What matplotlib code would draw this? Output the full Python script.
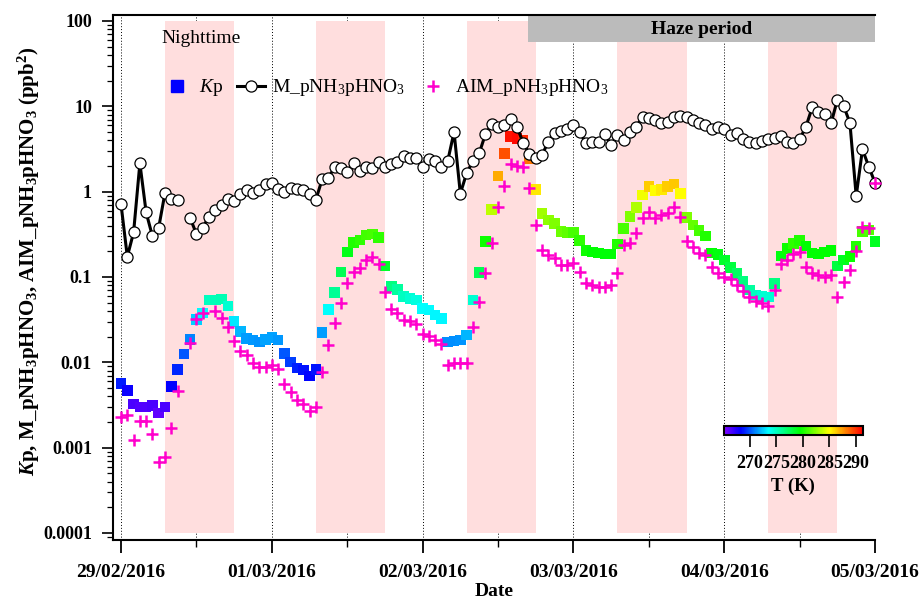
import numpy as np
import matplotlib
matplotlib.use("Agg")
from matplotlib import pyplot as plt
from matplotlib.colors import LinearSegmentedColormap, Normalize
from matplotlib.lines import Line2D
from matplotlib.ticker import LogLocator, NullFormatter, FixedLocator

plt.rcParams['font.family'] = ['Liberation Serif', 'DejaVu Serif']
plt.rcParams['mathtext.fontset'] = 'custom'
plt.rcParams['mathtext.rm'] = 'Liberation Serif'
plt.rcParams['mathtext.it'] = 'Liberation Serif:italic'
plt.rcParams['mathtext.bf'] = 'Liberation Serif:bold'
plt.rcParams['mathtext.bfit'] = 'Liberation Serif:italic:bold'

nan = np.nan

# hourly data, hour 0 = 29/02/2016 00:00
hours = np.arange(121)

m_pnh3phno3 = [0.71, 0.173, 0.333, 2.15, 0.57, 0.30, 0.38, 0.97, 0.83, 0.80,
               nan, 0.49, 0.32, 0.38, 0.51, 0.61, 0.69, 0.81, 0.78, 0.93,
               1.04, 0.97, 1.04, 1.22, 1.25, 1.06, 1.00, 1.09, 1.06, 1.04,
               0.94, 0.80, 1.39, 1.46, 1.93, 1.90, 1.71, 2.15, 1.75, 1.96,
               1.88, 2.20, 1.96, 2.11, 2.24, 2.64, 2.49, 2.49, 1.96, 2.41,
               2.30, 1.96, 2.30, 5.0, 0.95, 1.64, 2.29, 2.81, 4.73, 6.15,
               5.77, 6.0, 7.1, 5.77, 3.74, 2.74, 2.49, 2.69, 3.85, 4.9,
               5.17, 5.37, 6.0, 5.0, 3.68, 3.85, 3.85, 4.69, 3.52, 4.61,
               4.03, 5.0, 5.77, 7.55, 7.2, 6.9, 6.3, 6.6, 7.4, 7.7,
               7.4, 6.9, 6.3, 6.0, 5.37, 5.77, 5.37, 4.61, 4.9, 4.1,
               3.85, 3.74, 3.94, 4.1, 4.2, 4.46, 3.85, 3.68, 4.1, 5.77,
               9.7, 8.6, 8.1, 6.3, 11.9, 10.1, 6.4, 0.89, 3.13, 1.96,
               1.27]

kp = [0.00567, 0.00464, 0.00324, 0.0030, 0.0030, 0.0031, 0.00256, 0.0030, 0.00517, 0.00826,
      0.0125, 0.0185, 0.0318, 0.038, 0.0536, 0.054, 0.055, 0.0456, 0.0299, 0.0228,
      0.019, 0.0182, 0.0174, 0.0186, 0.0194, 0.0183, 0.0127, 0.0101, 0.0086, 0.0081,
      0.0069, 0.0083, 0.0222, 0.0417, 0.066, 0.115, 0.197, 0.252, 0.271, 0.31,
      0.318, 0.291, 0.134, 0.0768, 0.0714, 0.0586, 0.056, 0.0536, 0.0428, 0.041,
      0.0357, 0.0327, 0.0174, 0.0178, 0.0182, 0.0208, 0.054, 0.112, 0.259, 0.619,
      1.53, 2.81, 4.4, 4.2, 4.0, 2.45, 1.06, 0.557, 0.465, 0.425,
      0.339, 0.33, 0.33, 0.266, 0.203, 0.197, 0.19, 0.185, 0.185, 0.243,
      0.372, 0.508, 0.655, 0.912, 1.14, 1.03, 1.06, 1.14, 1.23, 0.95,
      0.50, 0.405, 0.348, 0.302, 0.192, 0.182, 0.158, 0.129, 0.110, 0.088,
      0.070, 0.0614, 0.059, 0.058, 0.084, 0.177, 0.216, 0.248, 0.266, 0.23,
      0.192, 0.186, 0.197, 0.203, 0.135, 0.158, 0.173, 0.23, 0.339, 0.355,
      0.259]

temp_k = [268.8, 268.0, 266.5, 266.3, 266.3, 266.5, 266.0, 266.5, 268.2, 269.0,
          270.0, 271.0, 272.5, 273.4, 275.0, 275.2, 275.3, 274.6, 273.0, 272.0,
          271.5, 271.4, 271.3, 271.6, 271.6, 271.4, 270.0, 269.5, 268.9, 268.6,
          268.3, 268.6, 271.5, 273.5, 276.0, 277.5, 279.0, 280.2, 280.5, 280.9,
          281.0, 280.5, 278.5, 276.5, 275.8, 275.0, 274.6, 274.2, 273.5, 273.4,
          273.3, 273.3, 271.2, 271.2, 271.3, 272.0, 274.6, 277.5, 279.8, 283.6,
          287.0, 289.3, 290.8, 291.0, 290.3, 288.4, 285.5, 283.0, 282.5, 282.2,
          281.8, 281.5, 281.0, 280.5, 279.8, 279.5, 279.5, 279.4, 279.4, 280.2,
          281.0, 282.2, 283.3, 284.7, 286.2, 285.0, 285.5, 286.2, 286.3, 285.0,
          282.2, 281.6, 281.0, 280.2, 279.5, 279.2, 278.5, 278.0, 277.2, 276.5,
          275.8, 275.0, 274.6, 274.6, 276.5, 279.2, 279.8, 280.5, 280.2, 279.5,
          279.5, 279.5, 279.5, 279.5, 278.0, 278.8, 279.7, 280.2, 281.0, 281.2,
          278.8]

aim_pnh3phno3 = [0.00226, 0.0024, 0.00122, 0.00206, 0.00206, 0.00144, 0.00068, 0.00078, 0.0017, 0.0046,
                 nan, 0.0167, 0.0318, 0.038, nan, 0.0396, 0.0327, 0.0256, 0.0179, 0.0136,
                 0.0121, 0.0097, 0.0087, 0.0087, 0.0092, 0.0083, 0.00555, 0.00451, 0.0036, 0.00324,
                 0.00268, 0.0030, 0.00774, 0.0159, 0.0286, 0.050, 0.0855, 0.115, 0.126, 0.158,
                 0.170, 0.142, 0.067, 0.0417, 0.038, 0.0313, 0.0307, 0.028, 0.0212, 0.0203,
                 0.0185, 0.0163, 0.0093, 0.0097, 0.0099, 0.0099, 0.0256, 0.0512, 0.110, 0.252,
                 0.655, 1.16, 2.11, 2.0, 1.93, 1.09, 0.405, 0.207, 0.181, 0.168,
                 0.138, 0.138, 0.144, 0.115, 0.0855, 0.0803, 0.077, 0.077, 0.080, 0.110,
                 0.236, 0.247, 0.33, 0.486, 0.581, 0.486, 0.532, 0.563, 0.655, 0.50,
                 0.265, 0.226, 0.189, 0.182, 0.132, 0.112, 0.099, 0.094, 0.080, 0.069,
                 0.0577, 0.053, 0.049, 0.0456, 0.070, 0.142, 0.158, 0.185, 0.197, 0.132,
                 0.110, 0.105, 0.100, 0.105, 0.0586, 0.088, 0.120, 0.203, 0.387, 0.380,
                 1.27]

date_labels = ["29/02/2016", "01/03/2016", "02/03/2016", "03/03/2016", "04/03/2016", "05/03/2016"]
night_start, night_end = 7, 18      # hours of the shaded band each day
haze_start = 2.70                   # days

x = hours / 24.0

cmap = LinearSegmentedColormap.from_list(
    "igor_rainbow",
    [(0.0, '#8000ff'), (0.12, '#0000ff'), (0.32, '#00ffff'),
     (0.55, '#00ff00'), (0.76, '#ffff00'), (1.0, '#ff0000')])
norm = Normalize(265.08, 291.3)

fig = plt.figure(figsize=(9.21, 6.02), dpi=100)
ax = fig.add_axes([0.1224, 0.1030, 0.8277, 0.8721])
ax.set_yscale('log')
ax.set_xlim(-0.055, 5.0)
ax.set_ylim(10 ** -4.082, 10 ** 2.07)
ax.set_axisbelow(True)

# grid (dotted) at days and noons, under the bands
ax.set_xticks(range(6))
ax.set_xticklabels(date_labels)
ax.xaxis.set_minor_locator(FixedLocator(np.arange(0.5, 5, 1.0)))
ax.xaxis.grid(True, which='both', linestyle=(0, (1, 2)), color='k', linewidth=0.7)

for d in range(5):
    ax.fill_between([d + night_start / 24, d + night_end / 24], 1e-4, 100,
                    color='#ffdede', lw=0, zorder=1)

ax.fill_between([haze_start, 5.0], 56, 10 ** 2.055, color='#bbbbbb', lw=0, zorder=1.5)
ax.text((haze_start + 5.0) / 2, 10 ** 1.9, 'Haze period', ha='center', va='center',
        fontsize=14, fontweight='bold', zorder=6)
ax.text(0.265, 10 ** 1.80, 'Nighttime', ha='left', va='center', fontsize=14, zorder=6)

sc = ax.scatter(x, kp, c=temp_k, cmap=cmap, norm=norm, marker='s', s=58,
                edgecolors='none', zorder=3, clip_on=False)
ax.plot(x, m_pnh3phno3, '-', color='k', lw=2.2, marker='o', ms=8, mfc='white',
        mec='k', mew=0.9, zorder=4, clip_on=False)
ax.plot(x, aim_pnh3phno3, '+', color='#ff00cc', ms=8, mew=1.8, ls='none',
        zorder=5, clip_on=False)

# axes look
for side in ['left', 'bottom', 'top']:
    ax.spines[side].set_linewidth(1.5)
ax.spines['right'].set_visible(False)

ax.set_yticks([1e-4, 1e-3, 1e-2, 1e-1, 1, 10, 100])
ax.set_yticklabels(['0.0001', '0.001', '0.01', '0.1', '1', '10', '100'])
ax.yaxis.set_minor_locator(LogLocator(base=10, subs=np.arange(2, 10), numticks=100))
ax.yaxis.set_minor_formatter(NullFormatter())
ax.tick_params(axis='y', which='major', length=8, width=1.2, pad=7, labelsize=13)
ax.tick_params(axis='y', which='minor', length=4.3, width=0.9)
ax.tick_params(axis='x', which='major', length=9, width=1.3, pad=8, labelsize=14)
ax.tick_params(axis='x', which='minor', length=5, width=1.0)
for lab in ax.get_xticklabels() + ax.get_yticklabels():
    lab.set_fontweight('bold')

ax.set_xlabel('Date', fontsize=14, fontweight='bold', labelpad=2)
ax.set_ylabel(r'$\mathbfit{K}$p, M_pNH$_\mathbf{3}$pHNO$_\mathbf{3}$, '
              r'AIM_pNH$_\mathbf{3}$pHNO$_\mathbf{3}$ (ppb$^\mathbf{2}$)',
              fontsize=15, fontweight='bold')
ax.yaxis.set_label_coords(-0.093, 0.53)

handles = [
    Line2D([], [], marker='s', color='#0000ff', ls='none', ms=9),
    Line2D([], [], color='k', lw=2.2, marker='o', ms=8, mfc='white', mec='k', mew=0.9),
    Line2D([], [], marker='+', color='#ff00cc', ls='none', ms=8, mew=1.8),
]
labels = [r'$\mathit{K}$p', r'M_pNH$_3$pHNO$_3$', r'AIM_pNH$_3$pHNO$_3$']
ax.legend(handles, labels, loc='center left', bbox_to_anchor=(0.0666, 0.861),
          ncol=3, frameon=False, fontsize=14, handlelength=1.4, handletextpad=0.4,
          columnspacing=0.75, borderpad=0, borderaxespad=0)

# colour bar for temperature
cax = fig.add_axes([724 / 921, 1 - 435.3 / 602, 138.7 / 921, 9 / 602])
cb = fig.colorbar(sc, cax=cax, orientation='horizontal', ticks=[270, 275, 280, 285, 290])
cb.outline.set_linewidth(1.5)
cb.ax.tick_params(length=8.5, width=1.2, labelsize=13, pad=6)
for lab in cb.ax.get_xticklabels():
    lab.set_fontweight('bold')
cb.ax.minorticks_off()
cb.set_label('T (K)', fontsize=13.5, fontweight='bold', labelpad=4)

fig.savefig('out.png', dpi=100)
